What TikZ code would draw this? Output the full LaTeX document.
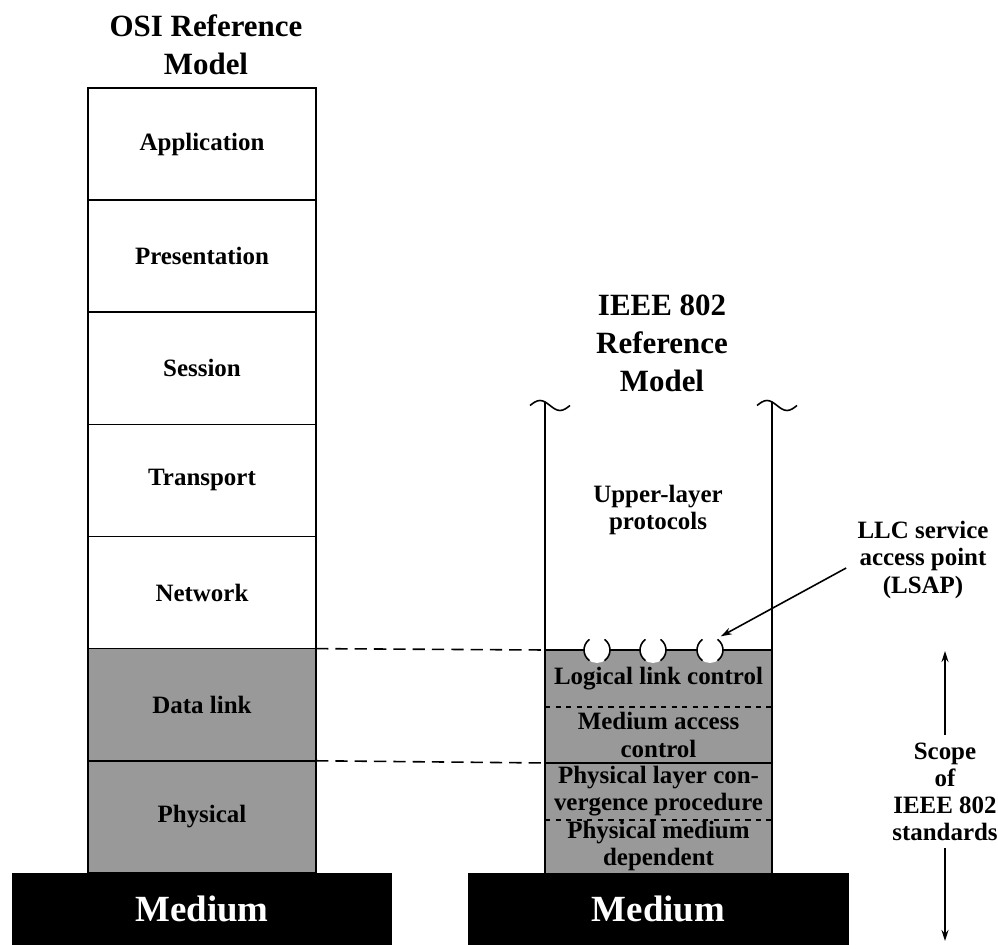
\documentclass[tikz,border=0pt]{standalone}
\usepackage{fontspec}
\setmainfont{Liberation Serif}
\usetikzlibrary{positioning,arrows.meta}

\begin{document}
\begin{tikzpicture}[
  x=0.02cm, y=0.02cm,
  node distance=0pt,
  rule/.style={line width=0.9pt},
  layer/.style={draw, rule, outer sep=0pt, inner sep=0pt, align=center,
                minimum width=4.56cm, minimum height=2.243cm,
                font=\fontsize{14.2pt}{15.4pt}\selectfont\bfseries},
  sub/.style={fill=black!40, outer sep=0pt, inner sep=0pt, align=center,
              minimum width=4.54cm, minimum height=1.14cm,
              font=\fontsize{14.2pt}{15.4pt}\selectfont\bfseries},
  medium/.style={fill=black, text=white, outer sep=0pt,
                 minimum width=7.62cm, minimum height=1.44cm,
                 font=\fontsize{21pt}{24pt}\selectfont\bfseries},
  title/.style={inner sep=0pt, align=center,
                font=\fontsize{17.6pt}{21.6pt}\selectfont\bfseries},
  note/.style={inner sep=0pt, align=center,
               font=\fontsize{14.2pt}{15.4pt}\selectfont\bfseries},
  guide/.style={rule, dash pattern=on 7pt off 4pt},
  arrow/.style={rule, -{Stealth[length=0.22cm,width=0.14cm]}},
  sap/.style={circle, fill=white, minimum size=0.52cm, inner sep=0pt, outer sep=0pt}
]
\useasboundingbox (0,0) rectangle (998,-945);

% OSI stack
\node[layer] (app) at (202,-144.07) {Application};
\node[layer, below=of app]   (pres)  {Presentation};
\node[layer, below=of pres]  (sess)  {Session};
\node[layer, below=of sess]  (trans) {Transport};
\node[layer, below=of trans] (net)   {Network};
\node[layer, fill=black!40, below=of net]   (dlink) {Data link};
\node[layer, fill=black!40, below=of dlink] (phys)  {Physical};
\node[medium, below=of phys] (med1) {Medium};
\node[title, above=0.26cm of app, xshift=0.08cm] (osititle) {OSI Reference\\Model};

% IEEE 802 stack
\node[sub] (llc) at (658.5,-678.5) {Logical link control};
\node[sub, minimum height=1.12cm, below=of llc] (mac)  {Medium access\\control};
\node[sub, below=of mac]                        (plcp) {Physical layer con-\\vergence procedure};
\node[sub, minimum height=1.06cm, below=of plcp] (pmd) {Physical medium\\dependent};
\node[medium, below=of pmd] (med2) {Medium};
\node[title, anchor=south] (ieeetitle) at (662,-392) {IEEE 802\\Reference\\Model};
\node[note] (upper) at (658,-510) {Upper-layer\\protocols};

\coordinate (ieeeL) at (545,-402);
\coordinate (ieeeR) at (772,-402);
\draw[rule] (ieeeL) -- (pmd.south west);
\draw[rule] (ieeeR) -- (pmd.south east);
\foreach \c in {ieeeL, ieeeR}
  \draw[rule] ([shift={(-15,-3.5)}]\c) sin ++(10,5) cos ++(10,-5) sin ++(10,-5) cos ++(10,5);
\draw[rule] (llc.north west) -- (llc.north east);
\draw[rule, dashed] (llc.south west) -- (llc.south east);
\draw[rule] (mac.south west) -- (mac.south east);
\draw[rule, dashed] (plcp.south west) -- (plcp.south east);

% service access points
\foreach \i/\x in {1/597, 2/653, 3/710} {
  \node[sap] (sap\i) at (\x,-650) {};
  \draw[rule] (sap\i.125) arc[start angle=125, end angle=235, radius=0.26cm];
  \draw[rule] (sap\i.55) arc[start angle=55, end angle=-55, radius=0.26cm];
}

% correspondence
\draw[guide] (dlink.north east) -- (llc.north west);
\draw[guide] (phys.north east) -- (plcp.north west);

\node[note] (lsaptext) at (923,-560) {LLC service\\access point\\(LSAP)};
\draw[arrow, shorten >=0.1cm] ([shift={(-11,-8)}]lsaptext.west) -- (sap3.60);

% scope
\node[note, inner sep=0.15cm] (scope) at (945,-791.5) {Scope\\of\\IEEE 802\\standards};
\coordinate (scopetop) at (945,-651);
\coordinate (scopebot) at (945,-941);
\draw[arrow] (scope.north) -- (scopetop);
\draw[arrow] (scope.south) -- (scopebot);
\end{tikzpicture}
\end{document}
